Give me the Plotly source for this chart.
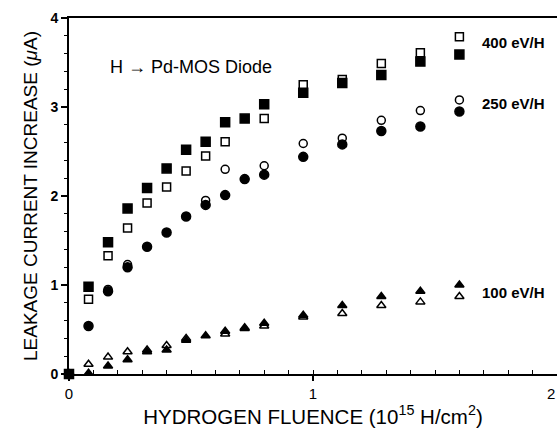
import plotly.graph_objects as go

# Fluence (10^15 H/cm^2)
fluence = [0.0, 0.08, 0.16, 0.24, 0.32, 0.40, 0.48, 0.56, 0.64, 0.72, 0.80,
           0.96, 1.12, 1.28, 1.44, 1.60]

# 400 eV/H
e400_filled = [0.0, 0.98, 1.48, 1.86, 2.09, 2.31, 2.52, 2.61, 2.83, 2.87, 3.03,
               3.16, 3.27, 3.36, 3.51, 3.59]
e400_open = [None, 0.84, 1.33, 1.64, 1.92, 2.10, 2.28, 2.45, 2.61, None, 2.87,
             3.25, 3.31, 3.49, 3.61, 3.79]

# 250 eV/H
e250_filled = [0.0, 0.54, 0.93, 1.20, 1.43, 1.59, 1.77, 1.90, 2.01, 2.19, 2.24,
               2.44, 2.58, 2.73, 2.78, 2.95]
e250_open = [None, None, 0.95, 1.23, None, None, None, 1.95, 2.30, None, 2.34,
             2.59, 2.65, 2.85, 2.96, 3.08]

# 100 eV/H
e100_filled = [0.0, 0.01, 0.09, 0.16, 0.25, 0.27, 0.38, 0.43, 0.48, 0.52, 0.57,
               0.66, 0.77, 0.87, 0.93, 1.00]
e100_open = [None, 0.11, 0.19, 0.25, 0.27, 0.32, 0.40, None, 0.45, 0.51, 0.54,
             0.64, 0.68, 0.77, 0.81, 0.87]

labels = ["400 eV/H", "250 eV/H", "100 eV/H"]
label_y = [3.73, 3.04, 0.92]
label_x = 1.684

x_tickvals = [0, 1, 2]
x_ticktext = ["0", "1", "2"]
y_tickvals = [0, 1, 2, 3, 4]

FONT = "Liberation Sans, Arial, sans-serif"

fig = go.Figure()

def add(y, symbol, size):
    fig.add_trace(go.Scatter(
        x=fluence, y=y, mode="markers", cliponaxis=False, showlegend=False,
        marker=dict(symbol=symbol, size=size, color="black",
                    line=dict(color="black", width=1.5)),
    ))

add(e400_open, "square-open", 8)
add(e400_filled, "square", 9)
add(e250_open, "circle-open", 8)
add(e250_filled, "circle", 9)
add(e100_open, "triangle-up-open", 8)
add(e100_filled, "triangle-up", 8)

for t, yy in zip(labels, label_y):
    fig.add_annotation(x=label_x, y=yy, text=t, showarrow=False,
                       xanchor="left", yanchor="middle",
                       font=dict(family=FONT, size=15, color="black", weight="bold"))

fig.add_annotation(x=0.5, y=3.45, text="H \u2192 Pd-MOS Diode", showarrow=False,
                   xanchor="center", yanchor="middle",
                   font=dict(family=FONT, size=18, color="black"))

# right-most x tick label, at the picture edge as in the reference
fig.add_annotation(xref="paper", yref="paper", x=1.0, y=0, yshift=-19,
                   text=x_ticktext[-1], showarrow=False,
                   xanchor="right", yanchor="middle",
                   font=dict(family=FONT, size=15, color="black"))

fig.update_layout(
    width=557, height=431,
    margin=dict(l=69, r=0, t=18, b=57),
    paper_bgcolor="white", plot_bgcolor="white",
    font=dict(family=FONT, color="black"),
    xaxis=dict(
        range=[0, 2], tickvals=x_tickvals[:-1], ticktext=x_ticktext[:-1],
        showgrid=False, zeroline=False,
        showline=True, linecolor="black", linewidth=2, mirror=True,
        ticks="outside", ticklen=5, tickwidth=1.5, tickcolor="black",
        tickfont=dict(family=FONT, size=15, color="black"),
        minor=dict(dtick=0.1, ticks="inside", ticklen=4, tickcolor="black", tickwidth=1),
        title=dict(text="HYDROGEN FLUENCE (10<sup>15</sup> H/cm<sup>2</sup>)",
                   font=dict(family=FONT, size=20.5, color="black"), standoff=6),
    ),
    yaxis=dict(
        range=[0, 4], tickvals=y_tickvals,
        showgrid=False, zeroline=False,
        showline=True, linecolor="black", linewidth=2,
        ticks="outside", ticklen=6, tickwidth=1.5, tickcolor="black",
        tickfont=dict(family=FONT, size=14, color="black", weight="bold"),
        minor=dict(dtick=0.2, ticks="outside", ticklen=3, tickcolor="black", tickwidth=1),
        title=dict(text="LEAKAGE CURRENT INCREASE (<i>\u03bc</i>A)",
                   font=dict(family=FONT, size=19, color="black"), standoff=8),
    ),
)

fig.write_html("out.html")
